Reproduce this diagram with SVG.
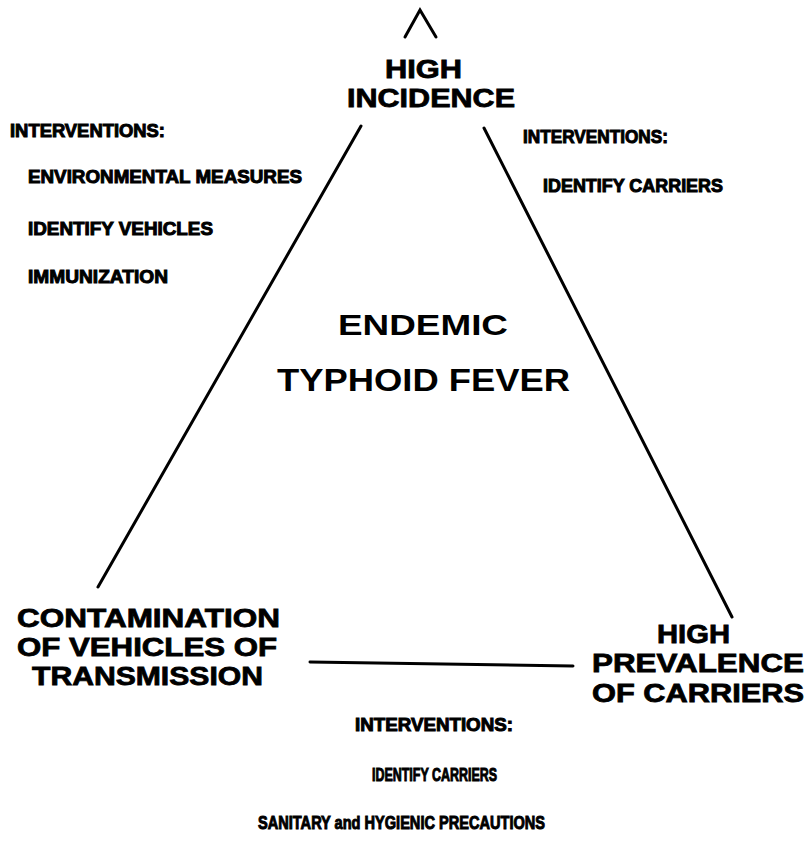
<svg xmlns="http://www.w3.org/2000/svg" width="809" height="843" viewBox="0 0 809 843">
<style>
.big{font-family:"Liberation Sans",Arial,sans-serif;font-weight:bold;fill:#000;}
.lbl{font-family:"Liberation Sans",Arial,sans-serif;font-weight:bold;font-size:26px;fill:#000;stroke:#000;stroke-width:0.8;}
.sm{font-family:"Liberation Sans",Arial,sans-serif;font-weight:bold;font-size:18.5px;fill:#000;stroke:#000;stroke-width:1;}
.ln{stroke:#000;stroke-width:3;stroke-linecap:round;fill:none;}
</style>
<rect width="809" height="843" fill="#fff"/>
<g id="connectors">
<path class="ln" d="M361,126 L98,587"/>
<path class="ln" d="M484,128 L732,617"/>
<path class="ln" d="M310,662 L573,666"/>
</g>
<g id="node-high-incidence">
<path class="ln" d="M405,37 L420,10 L436,37"/>
<text class="lbl" x="385" y="78" font-size="28" textLength="77" lengthAdjust="spacingAndGlyphs">HIGH</text>
<text class="lbl" x="347" y="107" font-size="28" textLength="168" lengthAdjust="spacingAndGlyphs">INCIDENCE</text>
</g>
<g id="node-center">
<text class="big" x="338" y="335" font-size="30" textLength="170" lengthAdjust="spacingAndGlyphs">ENDEMIC</text>
<text class="big" x="277" y="391" font-size="32" textLength="293" lengthAdjust="spacingAndGlyphs">TYPHOID  FEVER</text>
</g>
<g id="node-contamination">
<text class="lbl" x="17" y="627" textLength="263" lengthAdjust="spacingAndGlyphs">CONTAMINATION</text>
<text class="lbl" x="17" y="656" textLength="260" lengthAdjust="spacingAndGlyphs">OF VEHICLES OF</text>
<text class="lbl" x="32" y="685" textLength="231" lengthAdjust="spacingAndGlyphs">TRANSMISSION</text>
</g>
<g id="node-carriers">
<text class="lbl" x="657" y="643" textLength="73" lengthAdjust="spacingAndGlyphs">HIGH</text>
<text class="lbl" x="592" y="672" textLength="212" lengthAdjust="spacingAndGlyphs">PREVALENCE</text>
<text class="lbl" x="592" y="702" textLength="212" lengthAdjust="spacingAndGlyphs">OF CARRIERS</text>
</g>
<g id="interventions-left">
<text class="sm" x="10" y="137" textLength="155" lengthAdjust="spacingAndGlyphs">INTERVENTIONS:</text>
<text class="sm" x="28" y="183" textLength="274" lengthAdjust="spacingAndGlyphs">ENVIRONMENTAL MEASURES</text>
<text class="sm" x="28" y="235" textLength="185" lengthAdjust="spacingAndGlyphs">IDENTIFY VEHICLES</text>
<text class="sm" x="28" y="283" textLength="140" lengthAdjust="spacingAndGlyphs">IMMUNIZATION</text>
</g>
<g id="interventions-right">
<text class="sm" x="523" y="143" textLength="145" lengthAdjust="spacingAndGlyphs">INTERVENTIONS:</text>
<text class="sm" x="543" y="192" textLength="180" lengthAdjust="spacingAndGlyphs">IDENTIFY CARRIERS</text>
</g>
<g id="interventions-bottom">
<text class="sm" x="355" y="731" textLength="158" lengthAdjust="spacingAndGlyphs">INTERVENTIONS:</text>
<text class="sm" x="372" y="781" textLength="125" lengthAdjust="spacingAndGlyphs">IDENTIFY CARRIERS</text>
<text class="sm" x="258" y="829" textLength="287" lengthAdjust="spacingAndGlyphs">SANITARY and HYGIENIC PRECAUTIONS</text>
</g>
</svg>
